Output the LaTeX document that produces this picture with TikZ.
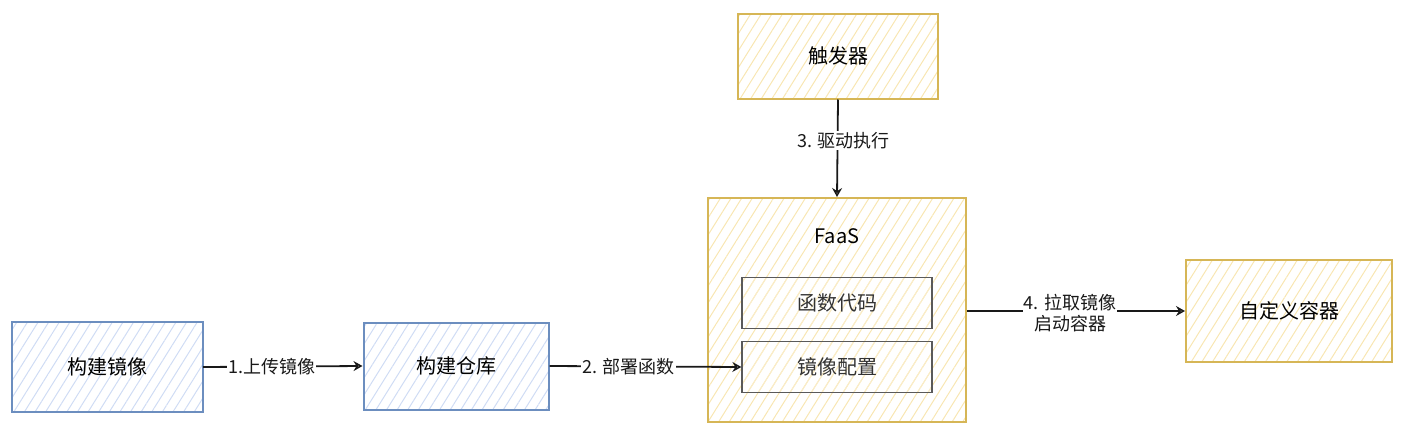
\documentclass[tikz,border=0pt]{standalone}
\usepackage{fontspec}
\setmainfont{Noto Sans CJK SC}
\usetikzlibrary{arrows.meta}
\usetikzlibrary{patterns.meta}
\definecolor{bluestroke}{HTML}{6C8EBF}
\definecolor{bluehatch}{HTML}{CFDCF4}
\definecolor{goldstroke}{HTML}{D6B656}
\definecolor{goldhatch}{HTML}{F8E6B2}
\definecolor{innerstroke}{HTML}{5A5A5A}

\begin{document}
\begin{tikzpicture} [x=1pt, y=-1pt,
  bluebox/.style={draw=bluestroke, line width=2pt, pattern={Lines[angle=58,distance=9pt,line width=1pt]}, pattern color=bluehatch, font=\fontsize{20}{24}\selectfont},
  goldbox/.style={draw=goldstroke, line width=2pt, pattern={Lines[angle=58,distance=9pt,line width=1pt]}, pattern color=goldhatch, font=\fontsize{20}{24}\selectfont},
  innerbox/.style={draw=innerstroke, line width=1.3pt, pattern={Lines[angle=58,distance=9pt,line width=1pt]}, pattern color=goldhatch!70, font=\fontsize{20}{24}\selectfont, text=black!80, minimum width=190pt, minimum height=51pt},
  flow/.style={black!90, line width=1.8pt, -{Stealth[open, length=9pt, width=10pt, inset=3pt]}},
  flowlabel/.style={fill=white, inner sep=1pt, font=\fontsize{18}{21}\selectfont, align=center}
]
\useasboundingbox (0,0) rectangle (1404,434);
\node[bluebox, minimum width=191pt, minimum height=90pt] (build) at (107,367) {构建镜像};
\node[bluebox, minimum width=185pt, minimum height=87pt] (repo) at (456,366) {构建仓库};
\node[goldbox, minimum width=200pt, minimum height=85pt] (trigger) at (838,56) {触发器};
\node[goldbox, minimum width=258pt, minimum height=224pt] (faas) at (837,310) {};
\node[font=\fontsize{20}{24}\selectfont] (faaslabel) at (837,236) {FaaS};
\node[innerbox] (code) at (837,303) {函数代码};
\node[innerbox] (image) at (837,367) {镜像配置};
\node[goldbox, minimum width=206pt, minimum height=102pt] (container) at (1289,311) {自定义容器};
\draw[flow] (build.east) -- node[flowlabel, xshift=-11pt] {1.上传镜像} (repo.west);
\draw[flow] (repo.east) -- node[flowlabel, xshift=-17pt] {2. 部署函数} (image.west);
\draw[flow] (trigger.south) -- node[flowlabel, yshift=8pt, xshift=6pt] {3. 驱动执行} (faas.north);
\draw[flow] (faas.east |- container.west) -- node[flowlabel, yshift=-2pt, xshift=-6pt] {4. 拉取镜像\\启动容器} (container.west);
\end{tikzpicture}
\end{document}
